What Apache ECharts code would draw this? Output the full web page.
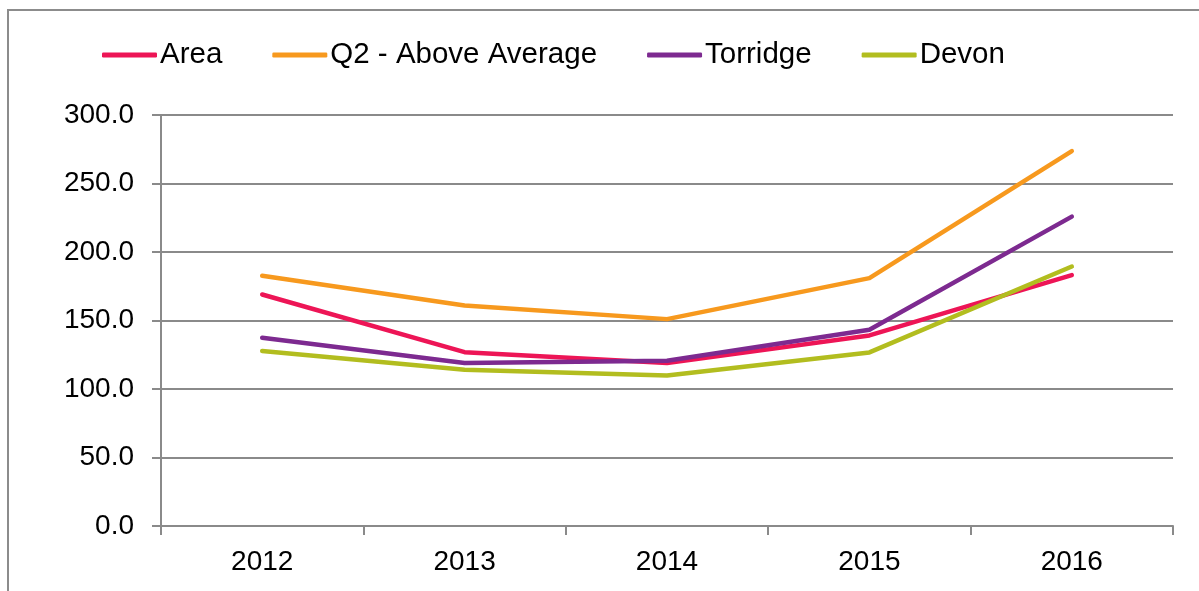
<!DOCTYPE html>
<html>
<head>
<meta charset="utf-8">
<script src="https://cdn.jsdelivr.net/npm/echarts@6/dist/echarts.min.js"></script>
<style>
html,body{margin:0;padding:0;background:#fff;}
#chart{width:1199px;height:591px;}
</style>
</head>
<body>
<div id="chart"></div>
<script>
const years = ['2012', '2013', '2014', '2015', '2016'];
const seriesNames = ['Area', 'Q2 - Above Average', 'Torridge', 'Devon'];
const areaValues = [169.0, 126.9, 118.9, 139.1, 183.1];
const q2Values = [182.6, 160.9, 151.0, 180.9, 273.7];
const torridgeValues = [137.4, 118.9, 120.6, 143.2, 225.8];
const devonValues = [127.7, 114.0, 109.9, 126.7, 189.4];
const yTicks = { min: 0, max: 300, interval: 50 };

const colors = ['#ED1556', '#F7991E', '#7D2A90', '#B2BD1F'];
const allValues = [areaValues, q2Values, torridgeValues, devonValues];
const font = '"Liberation Sans", Arial, sans-serif';
const gridColor = '#8a8a8a';

const chart = echarts.init(document.getElementById('chart'), null, { renderer: 'canvas' });
chart.setOption({
  animation: false,
  backgroundColor: '#ffffff',
  color: colors,
  graphic: [{
    type: 'rect',
    shape: { x: 8, y: 10, width: 1400, height: 800 },
    style: { fill: 'none', stroke: '#8c8c8c', lineWidth: 2 },
    silent: true,
    z: -1
  }],
  legend: {
    left: 102,
    top: 40,
    padding: 0,
    itemGap: 50,
    itemWidth: 55,
    itemHeight: 5,
    icon: 'roundRect',
    textStyle: { fontFamily: font, fontSize: 29.5, color: '#000', padding: [0, 0, 0, -2] },
    data: seriesNames
  },
  grid: { left: 161, right: 26, top: 115, bottom: 65, containLabel: false },
  xAxis: {
    type: 'category',
    data: years,
    boundaryGap: true,
    axisLine: { show: true, lineStyle: { color: gridColor, width: 2 } },
    axisTick: { show: true, length: 9, interval: 0, lineStyle: { color: gridColor, width: 2 } },
    axisLabel: { fontFamily: font, fontSize: 28, color: '#000', margin: 22 },
    splitLine: { show: false }
  },
  yAxis: {
    type: 'value',
    min: yTicks.min,
    max: yTicks.max,
    interval: yTicks.interval,
    axisLine: { show: true, lineStyle: { color: gridColor, width: 2 } },
    axisTick: { show: true, length: 9, lineStyle: { color: gridColor, width: 2 } },
    axisLabel: { fontFamily: font, fontSize: 28, color: '#000', margin: 27, formatter: v => v.toFixed(1) },
    splitLine: { show: true, lineStyle: { color: gridColor, width: 2 } }
  },
  series: seriesNames.map((name, i) => ({
    name: name,
    type: 'line',
    data: allValues[i],
    showSymbol: false,
    symbol: 'none',
    lineStyle: { width: 4.5, color: colors[i], cap: 'round', join: 'round' },
    itemStyle: { color: colors[i] }
  }))
});
</script>
</body>
</html>
